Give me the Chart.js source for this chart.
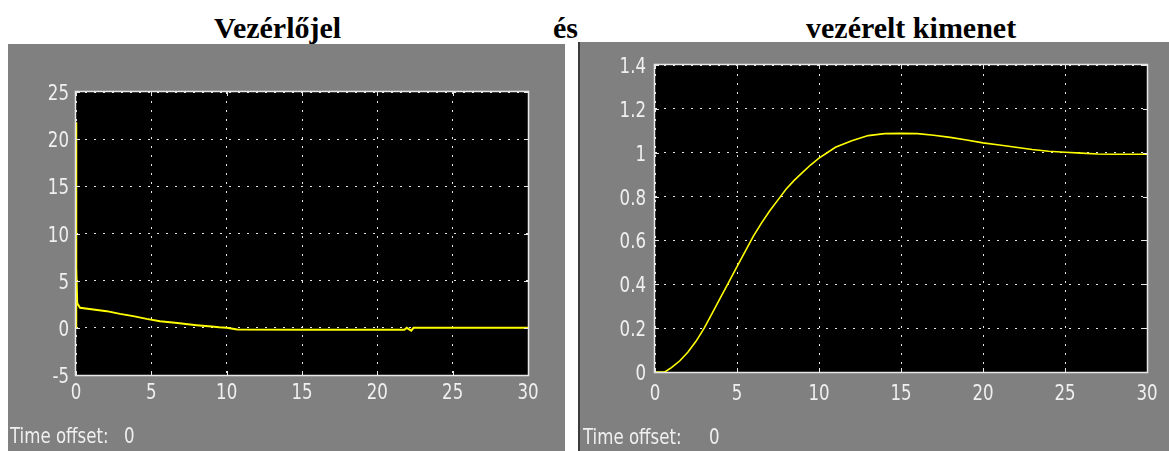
<!DOCTYPE html>
<html>
<head>
<meta charset="utf-8">
<title>Vezérlőjel és vezérelt kimenet</title>
<script src="https://cdn.jsdelivr.net/npm/chart.js@4.4.1/dist/chart.umd.min.js"></script>
<style>
  html, body { margin: 0; padding: 0; background: #fff; }
  body { width: 1169px; height: 451px; position: relative; overflow: hidden; }
  .title { position: absolute; top: 13px; font: bold 30px/30px "Liberation Serif", "Times New Roman", serif; color: #000; white-space: nowrap; }
  .panel { position: absolute; background: #808080; }
  .panel canvas { position: absolute; left: 0; top: 0; }
  .offset { position: absolute; font: 22px/22px "DejaVu Sans Condensed", "DejaVu Sans", sans-serif; color: #f0f0f0; white-space: nowrap; transform: scaleX(0.84); transform-origin: 0 0; }
</style>
</head>
<body>
<div class="title" style="left:214px">Vezérlőjel</div>
<div class="title" style="left:553px">és</div>
<div class="title" style="left:806px">vezérelt kimenet</div>

<div class="panel" id="panelL" style="left:8px; top:44px; width:557px; height:407px;">
  <canvas id="scopeL" width="557" height="407"></canvas>
  <span class="offset" style="left:2px; top:381px">Time offset:</span>
  <span class="offset" style="left:116px; top:381px">0</span>
</div>
<div class="panel" id="panelR" style="left:578px; top:42px; width:589px; height:409px; border-left:2px solid #3c3c3c;">
  <canvas id="scopeR" width="589" height="409"></canvas>
  <span class="offset" style="left:3px; top:384px">Time offset:</span>
  <span class="offset" style="left:129px; top:384px">0</span>
</div>

<script>

// Vezérlőjel (control signal), left scope
const timeLeft = [0, 0, 0.03, 0.08, 0.27, 1.15, 2.04, 2.92, 3.8, 4.69, 5.57, 6.57, 7, 8, 9, 9.5, 10, 10.7, 15, 21.8, 21.95, 22.25, 22.4, 30];
const controlSignal = [0, 21.8, 6.4, 2.6, 2.12, 1.94, 1.77, 1.48, 1.24, 0.95, 0.71, 0.53, 0.45, 0.28, 0.14, 0.07, 0.02, -0.17, -0.2, -0.2, 0, -0.3, 0, 0];

// vezérelt kimenet (controlled output), right scope
const timeRight = [0, 0.6, 1, 1.5, 2, 2.5, 3, 3.5, 4, 4.5, 5, 5.5, 6, 6.5, 7, 7.5, 8, 8.5, 9, 9.5, 10, 10.5, 11, 12, 13, 14, 15, 16, 17, 18, 19, 20, 21, 22, 23, 24, 25, 26, 27, 28, 29, 30];
const plantOutput = [0, 0, 0.02, 0.05, 0.09, 0.14, 0.2, 0.27, 0.34, 0.41, 0.48, 0.55, 0.62, 0.68, 0.735, 0.785, 0.835, 0.875, 0.91, 0.945, 0.975, 1.0, 1.025, 1.055, 1.078, 1.087, 1.088, 1.087, 1.08, 1.07, 1.058, 1.045, 1.035, 1.025, 1.015, 1.007, 1.002, 0.998, 0.994, 0.993, 0.993, 0.993];

// tick marks
const timeTicks = [0, 5, 10, 15, 20, 25, 30];
const timeTickLabels = ['0', '5', '10', '15', '20', '25', '30'];
const leftYTicks = [-5, 0, 5, 10, 15, 20, 25];
const leftYTickLabels = ['-5', '0', '5', '10', '15', '20', '25'];
const rightYTicks = [0, 0.2, 0.4, 0.6, 0.8, 1, 1.2, 1.4];
const rightYTickLabels = ['0', '0.2', '0.4', '0.6', '0.8', '1', '1.2', '1.4'];

const labelFont = '22px "DejaVu Sans Condensed", "DejaVu Sans", sans-serif';
const labelSqueeze = 0.84;   // scope font is tall and narrow
const labelColor = '#f0f0f0';
const frameColor = '#e8e8e8';

// black screen behind the grid, white frame and little inner ticks on top
const scopeScreen = {
  id: 'scopeScreen',
  beforeDraw(chart) {
    const a = chart.chartArea;
    chart.ctx.save();
    chart.ctx.fillStyle = '#000';
    chart.ctx.fillRect(a.left, a.top, a.right - a.left, a.bottom - a.top);
    chart.ctx.restore();
  },
  afterDatasetsDraw(chart) {
    const { ctx, chartArea: a, scales } = chart;
    ctx.save();
    ctx.strokeStyle = frameColor;
    ctx.lineWidth = 1;
    const seg = (x1, y1, x2, y2) => {
      ctx.beginPath();
      ctx.moveTo(x1, y1);
      ctx.lineTo(x2, y2);
      ctx.stroke();
    };
    scales.x.ticks.forEach(t => {
      const px = Math.round(scales.x.getPixelForValue(t.value)) + 0.5;
      seg(px, a.top, px, a.top + 4);
      seg(px, a.bottom - 4, px, a.bottom);
    });
    scales.y.ticks.forEach(t => {
      const py = Math.round(scales.y.getPixelForValue(t.value)) + 0.5;
      seg(a.left, py, a.left + 4, py);
      seg(a.right - 4, py, a.right, py);
    });
    ctx.lineWidth = 1.5;
    ctx.strokeRect(a.left - 0.5, a.top - 0.5, a.right - a.left + 1, a.bottom - a.top + 1);
    ctx.restore();
  }
};

// tick labels drawn at the scale's own tick pixels, squeezed horizontally
function tickLabelPlugin(yLabels, box) {
  return {
    id: 'scopeLabels',
    afterDraw(chart) {
      const { ctx, chartArea: a, scales } = chart;
      const text = (str, x, y, align) => {
        ctx.save();
        ctx.translate(x, y);
        ctx.scale(labelSqueeze, 1);
        ctx.textAlign = align;
        ctx.fillText(str, 0, 0);
        ctx.restore();
      };
      ctx.save();
      ctx.font = labelFont;
      ctx.fillStyle = labelColor;
      ctx.textBaseline = 'alphabetic';
      scales.x.ticks.forEach((t, i) => {
        text(timeTickLabels[i], scales.x.getPixelForValue(t.value), a.bottom + box.xBase, 'center');
      });
      scales.y.ticks.forEach((t, i) => {
        text(yLabels[i], a.left - box.yPad, scales.y.getPixelForValue(t.value) + 8, 'right');
      });
      ctx.restore();
    }
  };
}

function makeScope(canvasId, times, values, yMin, yMax, yTicks, yLabels, box) {
  const points = times.map((t, i) => ({ x: t, y: values[i] }));
  const grid = { color: 'rgba(255,255,255,0.9)', lineWidth: 1, drawTicks: false };
  return new Chart(document.getElementById(canvasId), {
    type: 'line',
    data: {
      datasets: [{
        data: points,
        borderColor: '#ffff00',
        borderWidth: box.lineWidth,
        pointRadius: 0,
        tension: 0,
        fill: false
      }]
    },
    options: {
      responsive: false,
      animation: false,
      events: [],
      layout: { padding: { top: box.top, right: box.right, left: 0, bottom: 0 } },
      plugins: { legend: { display: false }, tooltip: { enabled: false } },
      scales: {
        x: {
          type: 'linear',
          min: 0,
          max: 30,
          afterBuildTicks: s => { s.ticks = timeTicks.map(v => ({ value: v })); },
          afterFit: s => { s.height = box.bottom; },
          ticks: { display: false },
          grid: grid,
          border: { display: false, dash: [2, 7] }
        },
        y: {
          type: 'linear',
          min: yMin,
          max: yMax,
          afterBuildTicks: s => { s.ticks = yTicks.map(v => ({ value: v })); },
          afterFit: s => { s.width = box.left; },
          ticks: { display: false },
          grid: grid,
          border: { display: false, dash: [2, 7] }
        }
      }
    },
    plugins: [scopeScreen, tickLabelPlugin(yLabels, box)]
  });
}

makeScope('scopeL', timeLeft, controlSignal, -5, 25, leftYTicks, leftYTickLabels,
  { left: 68, top: 48, right: 37, bottom: 76, xBase: 24, yPad: 7, lineWidth: 2 });
makeScope('scopeR', timeRight, plantOutput, 0, 1.4, rightYTicks, rightYTickLabels,
  { left: 75, top: 23, right: 22, bottom: 79, xBase: 28, yPad: 9, lineWidth: 1.6 });
</script>
</body>
</html>
